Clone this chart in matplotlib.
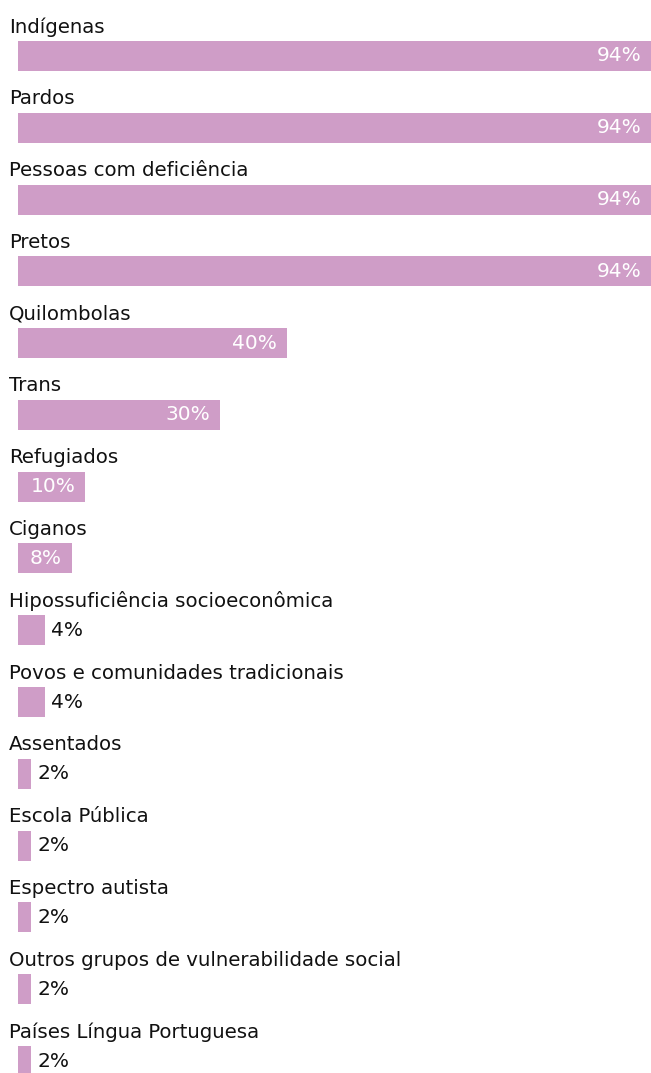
import numpy as np
import matplotlib.pyplot as plt
from matplotlib import transforms

categories = [
    "Indígenas",
    "Pardos",
    "Pessoas com deficiência",
    "Pretos",
    "Quilombolas",
    "Trans",
    "Refugiados",
    "Ciganos",
    "Hipossuficiência socioeconômica",
    "Povos e comunidades tradicionais",
    "Assentados",
    "Escola Pública",
    "Espectro autista",
    "Outros grupos de vulnerabilidade social",
    "Países Língua Portuguesa",
]
values = [94, 94, 94, 94, 40, 30, 10, 8, 4, 4, 2, 2, 2, 2, 2]

BAR_COLOR = "#cf9dc7"
W, H = 651, 1073
plt.rcParams["font.family"] = ["DejaVu Sans"]

fig = plt.figure(figsize=(W / 100, H / 100), dpi=100)
ax = fig.add_axes([18 / W, 0, (W - 18) / W, 1])

step = 71.8
y = np.arange(len(categories))
ax.barh(y, values, height=30 / step, color=BAR_COLOR)
ax.set_xlim(0, max(values))
ax.set_ylim(len(categories) - 1 + (H - 1061) / step, -56 / step)
ax.axis("off")

trans_label = transforms.blended_transform_factory(fig.transFigure, ax.transData)


def shift(dx):
    return ax.transData + transforms.ScaledTranslation(dx / 100, 0, fig.dpi_scale_trans)


for i, (cat, v) in enumerate(zip(categories, values)):
    ax.text(9 / W, i - 29 / step, cat, transform=trans_label,
            fontsize=14.2, va="center", ha="left", color="#111111")
    if v >= 8:
        ax.text(v, i, f"{v}%", transform=shift(-10),
                fontsize=14.5, va="center", ha="right", color="white")
    else:
        ax.text(v, i, f"{v}%", transform=shift(6),
                fontsize=14.5, va="center", ha="left", color="#111111")

fig.savefig("out.png", dpi=100)
